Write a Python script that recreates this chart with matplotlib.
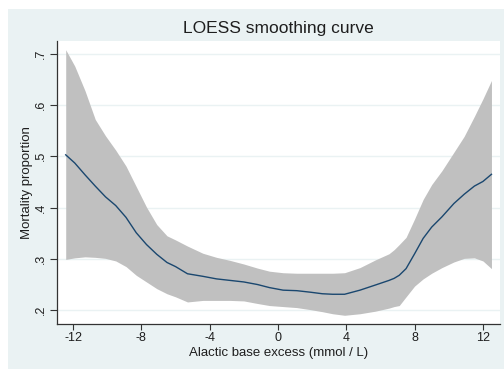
#!/usr/bin/env python3
"""
LOESS smoothing curve of mortality proportion against alactic base excess.
"""

import matplotlib
matplotlib.use('Agg')
import matplotlib.pyplot as plt
from matplotlib.patches import Rectangle

# Base excess (mmol/L) and the smoothed mortality with its confidence band
base_excess = [-12.43, -11.9, -11.3, -10.7, -10.1, -9.5, -8.9, -8.3, -7.7, -7.1,
               -6.5, -6.0, -5.3, -4.4, -3.6, -2.8, -2.0, -1.2, -0.5, 0.3,
               1.1, 1.9, 2.6, 3.2, 3.9, 4.8, 5.7, 6.5, 6.8, 7.1,
               7.5, 8.0, 8.5, 9.0, 9.6, 10.3, 10.9, 11.5, 12.0, 12.5]
mortality = [0.503, 0.487, 0.464, 0.442, 0.421, 0.404, 0.381, 0.351, 0.328, 0.309,
             0.293, 0.285, 0.271, 0.266, 0.261, 0.258, 0.255, 0.250, 0.244, 0.239,
             0.238, 0.235, 0.232, 0.231, 0.231, 0.239, 0.249, 0.258, 0.262, 0.268,
             0.281, 0.310, 0.340, 0.362, 0.382, 0.408, 0.426, 0.442, 0.451, 0.465]
upper_ci = [0.708, 0.676, 0.628, 0.572, 0.540, 0.512, 0.481, 0.441, 0.401, 0.367,
            0.345, 0.337, 0.325, 0.311, 0.303, 0.297, 0.290, 0.282, 0.276, 0.273,
            0.272, 0.272, 0.272, 0.272, 0.273, 0.283, 0.298, 0.310, 0.318, 0.328,
            0.342, 0.378, 0.416, 0.445, 0.472, 0.508, 0.539, 0.578, 0.612, 0.648]
lower_ci = [0.299, 0.302, 0.304, 0.303, 0.301, 0.296, 0.285, 0.268, 0.255, 0.242,
            0.232, 0.226, 0.216, 0.219, 0.219, 0.219, 0.218, 0.213, 0.209, 0.207,
            0.205, 0.201, 0.197, 0.193, 0.190, 0.193, 0.198, 0.204, 0.207, 0.209,
            0.226, 0.247, 0.261, 0.272, 0.283, 0.294, 0.301, 0.302, 0.296, 0.281]

x_ticks = [-12, -8, -4, 0, 4, 8, 12]
y_ticks = [0.2, 0.3, 0.4, 0.5, 0.6, 0.7]
y_tick_labels = ['.2', '.3', '.4', '.5', '.6', '.7']

PANEL = '#eaf2f3'
BAND = '#c0c0c0'
LINE = '#1a476f'
AXIS = '#333333'
TEXT = '#1e1e1e'

plt.rcParams['font.family'] = ['Liberation Sans', 'DejaVu Sans']

fig = plt.figure(figsize=(5.04, 3.69), dpi=100)
fig.patch.set_facecolor('white')
# light graph region behind the plot
fig.add_artist(Rectangle((8 / 504, 0), 1, 360 / 369, transform=fig.transFigure,
                         facecolor=PANEL, edgecolor='none', zorder=-10))

ax = fig.add_axes([57 / 504, 1 - 324 / 369, 443 / 504, 283 / 369])
ax.set_facecolor('white')

ax.fill_between(base_excess, lower_ci, upper_ci, color=BAND, linewidth=0, zorder=2)
ax.plot(base_excess, mortality, color=LINE, linewidth=1.0, zorder=3)

ax.set_xlim(-12.94, 13.0)
ax.set_ylim(0.173, 0.725)
ax.set_xticks(x_ticks)
ax.set_xticklabels([str(t) for t in x_ticks])
ax.set_yticks(y_ticks)
ax.set_yticklabels(y_tick_labels, rotation=90, va='center')

ax.grid(True, axis='y', color=PANEL, linewidth=1.0, zorder=1)
ax.set_axisbelow(True)

for side in ['top', 'right']:
    ax.spines[side].set_visible(False)
for side in ['left', 'bottom']:
    ax.spines[side].set_color(AXIS)
    ax.spines[side].set_linewidth(0.9)

ax.tick_params(axis='both', colors=AXIS, labelcolor=TEXT, labelsize=9,
               width=0.8, direction='out')
ax.tick_params(axis='x', length=4, pad=2)
ax.tick_params(axis='y', length=5, pad=2)

ax.set_xlabel('Alactic base excess (mmol / L)', fontsize=9.5, color=TEXT)
ax.set_ylabel('Mortality proportion', fontsize=9.5, color=TEXT)
ax.xaxis.set_label_coords(0.5, -0.081)
ax.yaxis.set_label_coords(-0.055, 0.5)
ax.set_title('LOESS smoothing curve', fontsize=12.5, color=TEXT, pad=6)

fig.savefig('out.png', dpi=100, facecolor=fig.get_facecolor())
plt.close(fig)
